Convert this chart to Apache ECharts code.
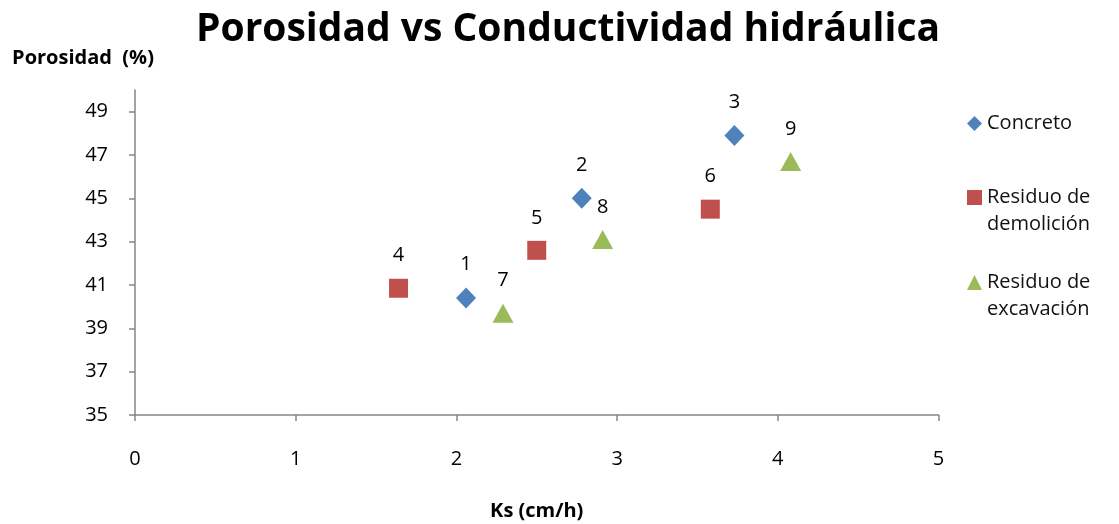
<!DOCTYPE html>
<html>
<head>
<meta charset="utf-8">
<script src="https://cdn.jsdelivr.net/npm/echarts@6/dist/echarts.min.js"></script>
<style>
  html, body { margin: 0; padding: 0; background: #fff; }
  #chart { width: 1119px; height: 524px; }
</style>
</head>
<body>
<div id="chart"></div>
<script>
// Ks (cm/h) and porosity (%) for each sample, grouped by material
const concretoKs = [2.06, 2.78, 3.73];
const concretoPor = [40.4, 45.0, 47.9];
const concretoIds = ['1', '2', '3'];

const demolicionKs = [1.64, 2.50, 3.58];
const demolicionPor = [40.85, 42.6, 44.5];
const demolicionIds = ['4', '5', '6'];

const excavacionKs = [2.29, 2.91, 4.08];
const excavacionPor = [39.7, 43.1, 46.7];
const excavacionIds = ['7', '8', '9'];

const seriesNames = ['Concreto', 'Residuo de demolición', 'Residuo de excavación'];
// legend text, wrapped; a leading blank line keeps the symbol beside the first line
const legendLabels = {
  'Concreto': 'Concreto',
  'Residuo de demolición': ' \nResiduo de\ndemolición',
  'Residuo de excavación': ' \nResiduo de\nexcavación'
};

const yTicks = [35, 37, 39, 41, 43, 45, 47, 49];
const xTicks = [0, 1, 2, 3, 4, 5];

const FONT = '"Open Sans", "DejaVu Sans", sans-serif';

function points(xs, ys, ids) {
  return xs.map((x, i) => ({ value: [x, ys[i]], name: ids[i] }));
}

const labelStyle = {
  show: true,
  position: 'top',
  distance: 13,
  formatter: p => p.name,
  color: '#000',
  fontFamily: FONT,
  fontSize: 20
};

function legendFor(name, top) {
  return {
    orient: 'vertical', left: 967, top: top, padding: 0,
    itemWidth: 15, itemHeight: 15, itemGap: 0,
    data: [name],
    formatter: n => legendLabels[n],
    textStyle: { color: '#111', fontFamily: FONT, fontSize: 20, lineHeight: 27 }
  };
}

const chart = echarts.init(document.getElementById('chart'));
chart.setOption({
  animation: false,
  title: {
    text: 'Porosidad vs Conductividad hidráulica',
    left: 563,
    top: 5,
    textAlign: 'center',
    textStyle: { fontFamily: FONT, fontSize: 39, fontWeight: 'bold', color: '#000' }
  },
  grid: { left: 135, right: 180.5, top: 90, bottom: 109, outerBoundsMode: 'none' },
  xAxis: {
    type: 'value',
    min: 0,
    max: 5,
    interval: 1,
    name: 'Ks (cm/h)',
    nameLocation: 'middle',
    nameGap: 86,
    nameTextStyle: { fontFamily: FONT, fontSize: 20, fontWeight: 'bold', color: '#000' },
    axisLine: { show: true, lineStyle: { color: '#868686', width: 1.5 } },
    axisTick: { show: true, length: 6, lineStyle: { color: '#868686', width: 1.5 } },
    axisLabel: { customValues: xTicks, margin: 34, fontFamily: FONT, fontSize: 20, color: '#000' },
    splitLine: { show: false }
  },
  yAxis: {
    type: 'value',
    min: 35,
    max: 50,
    name: 'Porosidad  (%)',
    nameLocation: 'end',
    nameGap: 22,
    nameTextStyle: { fontFamily: FONT, fontSize: 20, fontWeight: 'bold', color: '#000', align: 'center', padding: [0, 104, 0, 0] },
    axisLine: { show: true, lineStyle: { color: '#868686', width: 1.5 } },
    axisTick: { show: true, length: 6, customValues: yTicks, lineStyle: { color: '#868686', width: 1.5 } },
    axisLabel: { customValues: yTicks, margin: 27, fontFamily: FONT, fontSize: 20, color: '#000' },
    splitLine: { show: false }
  },
  legend: [
    legendFor(seriesNames[0], 110),
    legendFor(seriesNames[1], 157),
    legendFor(seriesNames[2], 242)
  ],
  series: [
    {
      name: seriesNames[0],
      type: 'scatter',
      symbol: 'diamond',
      symbolSize: [20, 21],
      itemStyle: { color: '#4F81BD', opacity: 1 },
      label: labelStyle,
      data: points(concretoKs, concretoPor, concretoIds)
    },
    {
      name: seriesNames[1],
      type: 'scatter',
      symbol: 'rect',
      symbolSize: [19, 19],
      itemStyle: { color: '#C0504D', opacity: 1 },
      label: labelStyle,
      data: points(demolicionKs, demolicionPor, demolicionIds)
    },
    {
      name: seriesNames[2],
      type: 'scatter',
      symbol: 'triangle',
      symbolSize: [21, 19],
      itemStyle: { color: '#9BBB59', opacity: 1 },
      label: labelStyle,
      data: points(excavacionKs, excavacionPor, excavacionIds)
    }
  ]
});
</script>
</body>
</html>
